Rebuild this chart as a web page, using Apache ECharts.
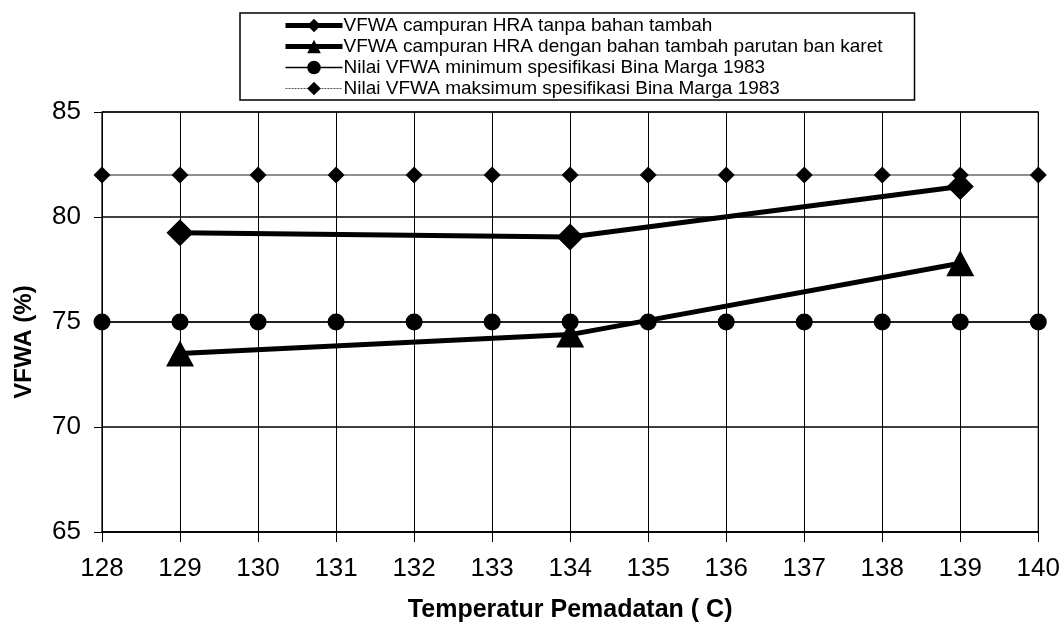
<!DOCTYPE html>
<html>
<head>
<meta charset="utf-8">
<script src="https://cdn.jsdelivr.net/npm/echarts@6/dist/echarts.min.js"></script>
<style>
html,body{margin:0;padding:0;background:#fff;}
#chart{width:1063px;height:628px;}
</style>
</head>
<body>
<div id="chart"></div>
<script>
// ---- data ----
const xTicks = [128, 129, 130, 131, 132, 133, 134, 135, 136, 137, 138, 139, 140];
const tempMeasured = [129, 134, 139];
const vfwaTanpa = [79.25, 79.05, 81.45];
const vfwaDengan = [73.5, 74.4, 77.8];
const vfwaMin = [75, 75, 75, 75, 75, 75, 75, 75, 75, 75, 75, 75, 75];
const vfwaMax = [82, 82, 82, 82, 82, 82, 82, 82, 82, 82, 82, 82, 82];
const yTicks = [65, 70, 75, 80, 85];
const seriesNames = [
  'VFWA campuran HRA tanpa bahan tambah',
  'VFWA campuran HRA dengan bahan tambah parutan ban karet',
  'Nilai VFWA minimum spesifikasi Bina Marga 1983',
  'Nilai VFWA maksimum spesifikasi Bina Marga 1983'
];
const xTitle = 'Temperatur Pemadatan ( C)';
const yTitle = 'VFWA (%)';

const FONT = '"Liberation Sans", Arial, sans-serif';
const pair = (xs, ys) => xs.map((x, i) => [x, ys[i]]);

const chart = echarts.init(document.getElementById('chart'), null, {renderer: 'canvas'});
chart.setOption({
  animation: false,
  backgroundColor: '#ffffff',
  textStyle: {fontFamily: FONT, color: '#000'},
  grid: {left: 102, right: 23, top: 112, bottom: 95, show: true, borderColor: '#000', borderWidth: 1.2},
  legend: {
    orient: 'vertical',
    left: 240, top: 13,
    padding: [3, 32, 2, 43],
    itemWidth: 57, itemHeight: 17, itemGap: 2,
    borderColor: '#000', borderWidth: 1.5,
    backgroundColor: '#fff',
    textStyle: {fontFamily: FONT, fontSize: 19, color: '#000', padding: [0, 0, 0, -4]},
    data: [
      {name: seriesNames[0], lineStyle: {width: 5, color: '#000'}},
      {name: seriesNames[1], lineStyle: {width: 5, color: '#000'}},
      {name: seriesNames[2], lineStyle: {width: 1.3, color: '#000'}},
      {name: seriesNames[3], lineStyle: {width: 1.2, color: '#555', type: [2, 1]}}
    ]
  },
  xAxis: {
    type: 'value', min: 128, max: 140, interval: 1,
    name: xTitle, nameLocation: 'middle', nameGap: 66,
    nameTextStyle: {fontFamily: FONT, fontSize: 25, fontWeight: 'bold', color: '#000'},
    axisLine: {show: true, lineStyle: {color: '#000', width: 1.5}},
    axisTick: {show: true, length: 10, lineStyle: {color: '#000', width: 1}},
    axisLabel: {fontFamily: FONT, fontSize: 26, color: '#000', margin: 24, formatter: v => String(v)},
    splitLine: {show: true, lineStyle: {color: '#000', width: 1}}
  },
  yAxis: {
    type: 'value', min: 65, max: 85, interval: 5,
    name: yTitle, nameLocation: 'middle', nameGap: 66, nameRotate: 90,
    nameTextStyle: {fontFamily: FONT, fontSize: 24, fontWeight: 'bold', color: '#000', padding: [0, 40, 0, 0]},
    axisLine: {show: false},
    axisTick: {show: true, length: 8, lineStyle: {color: '#000', width: 1}},
    axisLabel: {fontFamily: FONT, fontSize: 26, color: '#000', margin: 21},
    splitLine: {show: true, lineStyle: {color: '#000', width: 1.5}}
  },
  series: [
    {
      name: seriesNames[3], type: 'line', z: 2,
      data: pair(xTicks, vfwaMax),
      symbol: 'diamond', symbolSize: 17,
      itemStyle: {color: '#000'},
      lineStyle: {color: '#222', width: 1.2}
    },
    {
      name: seriesNames[2], type: 'line', z: 2,
      data: pair(xTicks, vfwaMin),
      symbol: 'circle', symbolSize: 17,
      itemStyle: {color: '#000'},
      lineStyle: {color: '#000', width: 1.2}
    },
    {
      name: seriesNames[1], type: 'line', z: 4,
      data: pair(tempMeasured, vfwaDengan),
      symbol: 'triangle', symbolSize: [28, 26],
      itemStyle: {color: '#000'},
      lineStyle: {color: '#000', width: 5}
    },
    {
      name: seriesNames[0], type: 'line', z: 4,
      data: pair(tempMeasured, vfwaTanpa),
      symbol: 'diamond', symbolSize: 27,
      itemStyle: {color: '#000'},
      lineStyle: {color: '#000', width: 5}
    }
  ]
});
</script>
</body>
</html>
